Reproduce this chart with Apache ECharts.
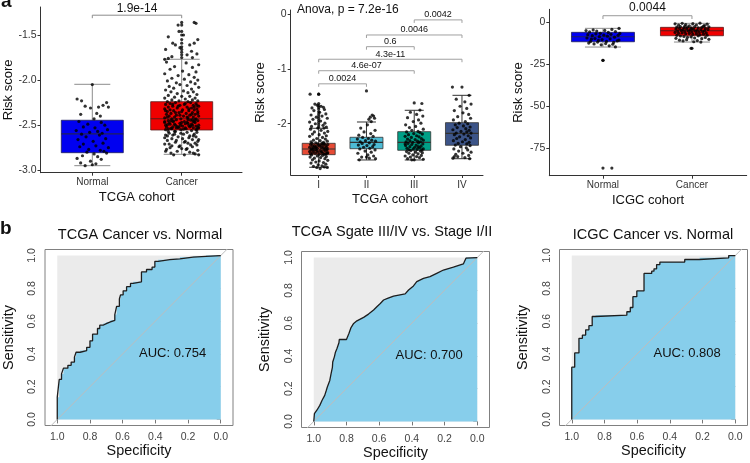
<!DOCTYPE html>
<html><head><meta charset="utf-8">
<script src="https://cdn.jsdelivr.net/npm/echarts@6/dist/echarts.min.js"></script>
<style>html,body{margin:0;padding:0;background:#fff}#c{width:750px;height:463px}</style>
</head><body><div id="c"></div>
<script>
const FONT = 'Liberation Sans, Arial, Helvetica, sans-serif';

// ---------- Panel a (left): TCGA Normal vs Cancer ----------
const a1Cats = ['Normal', 'Cancer'];
// [lower whisker, Q1, median, Q3, upper whisker]
const a1Stats = [[-2.95, -2.806, -2.598, -2.446, -2.047], [-2.824, -2.554, -2.429, -2.24, -1.769]];
const a1Outliers = [[], [-1.36, -1.39, -1.46, -1.50, -1.55, -1.59, -1.63, -1.66, -1.69, -1.72, -1.75]];
const a1NormalPts = [[0.00,-2.05],[-0.17,-2.21],[-0.12,-2.23],[0.16,-2.25],[0.12,-2.28],[-0.08,-2.29],[-0.02,-2.31],[0.07,-2.30],[0.18,-2.30],[-0.13,-2.38],[0.05,-2.37],[0.09,-2.40],[0.02,-2.43],
[-0.15,-2.46],[0.10,-2.47],[-0.05,-2.49],[0.14,-2.50],[-0.10,-2.52],[0.03,-2.53],[0.17,-2.55],[-0.18,-2.56],[0.06,-2.57],[-0.03,-2.58],[0.11,-2.59],[-0.12,-2.60],
[0.08,-2.61],[-0.07,-2.63],[0.15,-2.65],[-0.16,-2.66],[0.01,-2.68],[0.12,-2.70],[-0.10,-2.71],[0.04,-2.73],[-0.14,-2.74],[0.18,-2.75],[-0.04,-2.77],[0.09,-2.78],[0.13,-2.79],
[-0.06,-2.80],[0.16,-2.81],[0.02,-2.82],[-0.11,-2.84],[0.06,-2.85],[-0.17,-2.87],[0.10,-2.88],[-0.02,-2.90],[-0.13,-2.92],[0.04,-2.93],[-0.08,-2.95],[0.00,-2.94]];
const a1CancerPts = [[0.14,-1.36],[-0.04,-1.39],[0.16,-1.37],[-0.03,-1.46],[-0.15,-1.52],[0.02,-1.50],[-0.10,-1.59],[-0.07,-1.61],[0.09,-1.61],[0.14,-1.59],[0.18,-1.55],[0.11,-1.68],[-0.18,-1.66],[-0.11,-1.74],[-0.15,-1.76],[0.06,-1.72],[0.17,-1.71],[-0.02,-1.64],[0.12,-1.75],[-0.19,-1.77],
[-0.17,-1.80],[0.05,-1.81],[0.19,-1.83],[-0.08,-1.85],[0.12,-1.86],[-0.13,-1.88],[0.01,-1.90],[0.16,-1.91],[-0.19,-1.93],[0.08,-1.94],[-0.04,-1.95],[0.14,-1.97],[-0.11,-1.98],[0.03,-1.99],[0.18,-2.00],[-0.16,-2.01],[0.10,-2.02],[-0.06,-2.03],[0.15,-2.04],[-0.02,-2.05],[0.06,-2.06],[-0.14,-2.07],[0.19,-2.08],[-0.09,-2.09],[0.11,-2.10],[-0.18,-2.11],[0.02,-2.12],[0.13,-2.13],[-0.12,-2.13],[0.07,-2.14],[-0.05,-2.15],[0.17,-2.16],[-0.15,-2.17],[0.00,-2.18],[0.09,-2.18],[-0.08,-2.19],[0.15,-2.20],[-0.19,-2.20],[0.04,-2.21],[-0.11,-2.22],[0.12,-2.22],[-0.03,-2.23],[0.18,-2.23],[-0.16,-2.24],[0.07,-2.24],
[0.10,-2.25],[-0.07,-2.25],[0.16,-2.26],[-0.13,-2.26],[0.03,-2.27],[-0.18,-2.27],[0.13,-2.28],[-0.02,-2.28],[0.19,-2.29],[-0.10,-2.29],[0.06,-2.30],[-0.15,-2.30],[0.11,-2.31],[-0.05,-2.31],[0.17,-2.32],[-0.19,-2.32],[0.01,-2.33],[0.14,-2.33],[-0.09,-2.34],[0.08,-2.34],[-0.16,-2.35],[0.18,-2.35],[-0.03,-2.36],[0.12,-2.36],[-0.12,-2.37],[0.05,-2.37],[0.15,-2.38],[-0.17,-2.38],[-0.06,-2.39],[0.09,-2.39],[0.19,-2.40],[-0.14,-2.40],[0.02,-2.40],[-0.08,-2.41],[0.13,-2.41],[-0.19,-2.42],[0.07,-2.42],[-0.01,-2.43],[0.16,-2.43],[-0.11,-2.43],[0.04,-2.26],[-0.04,-2.29],[0.08,-2.32],[-0.13,-2.33],[0.18,-2.37],[-0.07,-2.36],[0.11,-2.38],[-0.16,-2.41],[0.00,-2.35],[0.14,-2.30],[-0.10,-2.27],[0.06,-2.41],[-0.18,-2.34],[0.17,-2.28],[-0.02,-2.39],
[0.12,-2.44],[-0.06,-2.44],[0.18,-2.45],[-0.15,-2.45],[0.03,-2.46],[-0.10,-2.46],[0.15,-2.47],[-0.19,-2.47],[0.07,-2.48],[-0.02,-2.48],[0.11,-2.49],[-0.13,-2.49],[0.19,-2.50],[-0.07,-2.50],[0.01,-2.51],[0.16,-2.51],[-0.17,-2.52],[0.09,-2.52],[-0.04,-2.53],[0.13,-2.53],[-0.11,-2.54],[0.05,-2.54],[0.17,-2.55],[-0.18,-2.55],[-0.01,-2.55],[0.10,-2.445],[-0.09,-2.455],[0.14,-2.465],[-0.14,-2.475],[0.04,-2.485],[-0.16,-2.495],[0.08,-2.505],[-0.05,-2.515],[0.18,-2.525],[-0.12,-2.535],[0.02,-2.545],[0.15,-2.44],[-0.19,-2.46],[0.06,-2.47],[-0.08,-2.49],[0.12,-2.50],[-0.03,-2.52],[0.19,-2.53],[-0.15,-2.54],[0.00,-2.47],[0.10,-2.51],[-0.12,-2.45],[0.16,-2.55],[-0.06,-2.53],[0.07,-2.44],[-0.18,-2.50],[0.13,-2.46],[-0.01,-2.50],[0.04,-2.53],[-0.10,-2.52],
[0.11,-2.56],[-0.08,-2.57],[0.17,-2.58],[-0.14,-2.59],[0.02,-2.60],[-0.18,-2.61],[0.13,-2.62],[-0.04,-2.63],[0.08,-2.64],[-0.11,-2.65],[0.19,-2.66],[-0.16,-2.67],[0.04,-2.68],[-0.07,-2.69],[0.15,-2.70],[-0.19,-2.71],[0.10,-2.72],[-0.02,-2.73],[0.12,-2.74],[-0.13,-2.75],[0.06,-2.76],[-0.17,-2.77],[0.18,-2.78],[-0.05,-2.79],[0.09,-2.80],[-0.12,-2.81],[0.15,-2.82],[-0.09,-2.83],[0.03,-2.83],[0.19,-2.83],[-0.15,-2.57],[0.06,-2.58],[-0.01,-2.59],[0.14,-2.60],[-0.10,-2.61],[0.16,-2.63],[-0.19,-2.64],[0.01,-2.65],[0.12,-2.66],[-0.06,-2.67],[0.07,-2.70],[-0.14,-2.71],[0.17,-2.72],[-0.03,-2.74],[0.05,-2.77],[-0.18,-2.79],[0.13,-2.81],[-0.07,-2.57],[0.09,-2.62],[-0.16,-2.62],[0.03,-2.69],[0.18,-2.68],[-0.11,-2.73],[0.00,-2.76],[-0.08,-2.60]];
const a1YTicks = [-3, -2.5, -2, -1.5];
// [from category, to category, y value]
const a1Brackets = [[1, 2, -1.28]];
const a1BracketLabels = ['1.9e-14'];

// ---------- Panel a (middle): TCGA stages ----------
const a2Cats = ['I', 'II', 'III', 'IV'];
const a2Stats = [[-2.797, -2.566, -2.462, -2.358, -2.083], [-2.663, -2.457, -2.34, -2.248, -1.968], [-2.663, -2.486, -2.34, -2.145, -1.754], [-2.64, -2.394, -2.175, -1.98, -1.48]];
const a2Outliers = [[-1.46, -1.63, -1.67, -1.70, -1.73, -1.78, -1.82, -1.86, -1.90, -1.94, -1.98, -2.02, -2.06], [-1.40], [-1.62], [-1.33]];
const a2Pts1 = [[-0.18,-1.46],[0.00,-1.46],[-0.08,-1.64],[-0.03,-1.66],[0.05,-1.68],[-0.14,-1.71],[0.10,-1.70],[0.12,-1.74],[-0.10,-1.76],[0.02,-1.79],[0.15,-1.82],[-0.16,-1.84],[0.07,-1.86],[-0.05,-1.88],[0.18,-1.90],[-0.12,-1.92],[0.04,-1.95],[-0.19,-1.97],[0.13,-1.99],[-0.07,-2.00],[0.09,-2.03],[-0.15,-2.05],[0.16,-2.06],[-0.02,-2.08],[0.11,-2.08],
[-0.17,-2.10],[0.05,-2.12],[0.19,-2.14],[-0.09,-2.15],[0.12,-2.17],[-0.13,-2.19],[0.01,-2.20],[0.16,-2.22],[-0.19,-2.23],[0.08,-2.25],[-0.04,-2.27],[0.14,-2.28],[-0.11,-2.30],[0.03,-2.31],[0.18,-2.32],[-0.16,-2.33],[0.10,-2.34],[-0.06,-2.35],[0.07,-2.36],[-0.14,-2.36],
[0.12,-2.37],[-0.02,-2.37],[0.19,-2.38],[-0.17,-2.38],[0.05,-2.39],[-0.09,-2.40],[0.15,-2.40],[-0.13,-2.41],[0.02,-2.41],[0.09,-2.42],[-0.05,-2.42],[0.17,-2.43],[-0.19,-2.43],[-0.11,-2.44],[0.06,-2.44],[0.13,-2.45],[-0.03,-2.45],[0.18,-2.46],[-0.15,-2.46],[0.00,-2.39],[-0.07,-2.43],[0.10,-2.37],
[0.11,-2.47],[-0.06,-2.47],[0.17,-2.48],[-0.16,-2.48],[0.03,-2.49],[-0.10,-2.50],[0.14,-2.50],[-0.19,-2.51],[0.07,-2.51],[-0.02,-2.52],[0.19,-2.53],[-0.13,-2.53],[0.09,-2.54],[-0.07,-2.54],[0.15,-2.55],[-0.17,-2.55],[0.01,-2.56],[0.12,-2.56],[-0.04,-2.49],[0.05,-2.52],[-0.12,-2.47],[0.18,-2.54],
[-0.15,-2.57],[0.08,-2.58],[-0.03,-2.59],[0.16,-2.60],[-0.18,-2.61],[0.04,-2.62],[-0.09,-2.63],[0.13,-2.64],[-0.13,-2.66],[0.19,-2.67],[0.01,-2.68],[-0.06,-2.70],[0.10,-2.71],[-0.16,-2.72],[0.15,-2.74],[-0.01,-2.75],[0.07,-2.77],[-0.11,-2.78],[0.12,-2.79],[-0.04,-2.80],[0.18,-2.80],[0.03,-2.82]];
const a2Pts2 = [[0.12,-1.84],[0.15,-1.86],[0.08,-1.88],[0.17,-1.90],[0.05,-1.92],[0.10,-1.96],[0.02,-2.02],[-0.12,-2.08],[0.18,-2.12],[-0.05,-2.15],[0.09,-2.18],[-0.16,-2.21],[0.14,-2.23],[-0.08,-2.25],[0.04,-2.27],[-0.19,-2.28],[0.11,-2.30],[-0.02,-2.31],[0.19,-2.32],[-0.13,-2.33],[0.06,-2.35],[-0.09,-2.36],[0.16,-2.38],[-0.17,-2.39],[0.01,-2.40],[0.13,-2.42],[-0.06,-2.43],[0.07,-2.45],[-0.14,-2.46],[0.18,-2.48],[-0.03,-2.50],[0.10,-2.52],[-0.18,-2.54],[0.03,-2.57],[0.15,-2.59],[-0.10,-2.61],[0.06,-2.63],[0.19,-2.64],[-0.15,-2.66],[0.00,-2.61]];
const a2Pts3 = [[0.16,-1.63],[0.12,-1.75],[-0.08,-1.79],[0.05,-1.83],[0.18,-1.86],[-0.14,-1.89],[0.09,-1.93],[-0.02,-1.96],[0.14,-1.99],[-0.18,-2.02],[0.03,-2.05],[-0.10,-2.07],[0.19,-2.10],[-0.05,-2.12],[0.08,-2.14],
[-0.16,-2.15],[0.12,-2.16],[-0.01,-2.18],[0.17,-2.19],[-0.12,-2.20],[0.05,-2.22],[-0.19,-2.23],[0.10,-2.24],[-0.06,-2.25],[0.15,-2.27],[-0.14,-2.28],[0.02,-2.29],[0.19,-2.30],[-0.09,-2.31],[0.07,-2.32],[-0.17,-2.33],[0.13,-2.33],[-0.03,-2.34],
[0.09,-2.35],[-0.13,-2.36],[0.18,-2.37],[-0.05,-2.38],[0.04,-2.39],[-0.18,-2.40],[0.14,-2.41],[-0.09,-2.42],[0.01,-2.43],[0.11,-2.44],[-0.15,-2.45],[0.19,-2.46],[-0.02,-2.46],[0.06,-2.47],[-0.11,-2.48],[0.16,-2.48],[-0.19,-2.37],[0.08,-2.42],
[-0.07,-2.49],[0.13,-2.50],[-0.16,-2.51],[0.03,-2.52],[0.17,-2.53],[-0.11,-2.54],[0.08,-2.55],[-0.03,-2.57],[0.15,-2.58],[-0.19,-2.59],[0.05,-2.60],[-0.08,-2.61],[0.11,-2.62],[-0.14,-2.64],[0.19,-2.65],[0.00,-2.66],[-0.05,-2.66]];
const a2Pts4 = [[-0.20,-1.33],[0.15,-1.48],[-0.12,-1.55],[0.06,-1.60],[0.19,-1.64],[-0.04,-1.68],[0.10,-1.72],[-0.16,-1.76],[0.02,-1.80],[0.14,-1.83],[-0.09,-1.87],[0.18,-1.90],[-0.18,-1.93],[0.07,-1.96],
[-0.06,-1.99],[0.12,-2.00],[-0.14,-2.02],[0.03,-2.04],[0.17,-2.06],[-0.10,-2.07],[0.08,-2.09],[-0.19,-2.11],[0.15,-2.12],[-0.02,-2.14],[0.10,-2.15],[-0.12,-2.17],[0.19,-2.17],
[0.04,-2.19],[-0.16,-2.20],[0.13,-2.22],[-0.05,-2.24],[0.18,-2.26],[-0.11,-2.27],[0.07,-2.29],[-0.18,-2.31],[0.01,-2.33],[0.15,-2.34],[-0.08,-2.36],[0.10,-2.37],[-0.14,-2.39],
[0.17,-2.40],[-0.03,-2.42],[0.09,-2.44],[-0.17,-2.46],[0.12,-2.48],[-0.07,-2.50],[0.19,-2.52],[0.02,-2.54],[-0.13,-2.56],[0.14,-2.58],[-0.09,-2.60],[0.06,-2.62],[0.16,-2.64],[-0.19,-2.63],[-0.16,-2.60]];
const a2YTicks = [-2, -1, 0];
const a2Brackets = [[3, 4, -0.10], [2, 4, -0.376], [2, 3, -0.59], [1, 4, -0.82], [1, 3, -1.03], [1, 2, -1.27]];
const a2BracketLabels = ['0.0042', '0.0046', '0.6', '4.3e-11', '4.6e-07', '0.0024'];
const a2Anova = 'Anova, p = 7.2e-16';

// ---------- Panel a (right): ICGC ----------
const a3Cats = ['Normal', 'Cancer'];
const a3Stats = [[-14.94, -11.8, -8.84, -6.24, -3.87], [-11.98, -8.25, -5.29, -3.28, -0.91]];
const a3Outliers = [[-22.8, -86.6], [-15.7]];
const a3NormalPts = [[0.10,-86.6],[0.00,-22.8],[-0.19,-5.2],[-0.15,-6.0],[-0.11,-4.8],[-0.07,-5.5],[-0.03,-6.8],[0.02,-5.1],[0.06,-6.3],[0.10,-4.5],[0.14,-5.8],[0.18,-3.9],[0.19,-6.9],[-0.17,-7.6],[-0.12,-8.2],[-0.08,-7.1],[-0.04,-8.8],[0.01,-7.9],[0.05,-8.5],[0.09,-7.4],[0.13,-9.1],[0.17,-8.0],[-0.18,-9.6],[-0.13,-10.3],[-0.09,-9.9],[-0.05,-11.0],[-0.01,-10.5],[0.04,-11.6],[0.08,-10.1],[0.12,-12.2],[0.16,-11.3],[-0.16,-12.6],[-0.10,-13.1],[-0.06,-12.0],[-0.02,-13.6],[0.03,-12.9],[0.07,-14.2],[0.11,-13.3],[0.14,-14.9],[-0.14,-11.7],[0.18,-10.8]];
const a3CancerPts = [[-0.19,-1.2],[-0.15,-2.0],[-0.11,-0.9],[-0.07,-1.6],[-0.03,-2.4],[0.01,-1.1],[0.05,-1.9],[0.09,-0.8],[0.13,-2.6],[0.17,-1.4],[0.19,-3.0],[-0.17,-3.1],[-0.13,-2.8],[-0.09,-3.5],[-0.05,-3.2],[-0.01,-3.8],[0.03,-2.9],[0.07,-3.6],[0.11,-3.3],[0.15,-4.0],[-0.18,-4.3],[-0.14,-3.9],[-0.10,-4.6],[-0.06,-4.2],[-0.02,-4.9],[0.02,-4.4],[0.06,-5.0],[0.10,-4.7],[0.14,-5.3],[0.18,-4.5],[-0.16,-5.5],[-0.12,-5.1],[-0.08,-5.8],[-0.04,-5.4],[0.00,-6.0],[0.04,-5.6],[0.08,-6.2],[0.12,-5.9],[0.16,-6.5],[-0.19,-6.3],[-0.15,-6.8],[-0.11,-6.6],[-0.07,-7.1],[-0.03,-6.9],[0.01,-7.4],[0.05,-7.0],[0.09,-7.7],[0.13,-7.3],[0.17,-7.9],[-0.17,-8.0],[-0.13,-8.4],[-0.09,-8.7],[-0.05,-9.2],[-0.01,-8.9],[0.03,-9.6],[0.07,-8.3],[0.11,-10.0],[0.15,-9.3],[0.19,-10.4],[-0.18,-9.8],[-0.14,-10.9],[-0.10,-11.3],[-0.06,-10.6],[0.02,-11.8],[0.06,-11.1],[0.10,-12.0],[-0.01,-15.7],[0.14,-2.2],[-0.08,-2.5],[0.00,-4.1]];
const a3YTicks = [-75, -50, -25, 0];
const a3Brackets = [[1, 2, 3.6]];
const a3BracketLabels = ['0.0044'];

// ---------- Panel b: ROC curves, points are [specificity, sensitivity] ----------
const rocTcga = [[1,0],[1,0.136],[0.988,0.136],[0.988,0.244],[0.974,0.244],[0.974,0.278],[0.962,0.278],[0.962,0.313],[0.935,0.313],[0.935,0.33],[0.915,0.33],[0.915,0.35],[0.895,0.35],[0.895,0.38],[0.885,0.38],[0.885,0.41],[0.86,0.41],[0.86,0.42],[0.82,0.42],[0.82,0.44],[0.80,0.44],[0.80,0.48],[0.784,0.48],[0.784,0.52],[0.754,0.52],[0.754,0.555],[0.74,0.555],[0.74,0.575],[0.72,0.575],[0.72,0.585],[0.70,0.585],[0.70,0.595],[0.675,0.595],[0.675,0.605],[0.648,0.605],[0.648,0.64],[0.637,0.64],[0.637,0.69],[0.62,0.69],[0.62,0.735],[0.613,0.735],[0.613,0.76],[0.597,0.76],[0.597,0.785],[0.576,0.785],[0.576,0.81],[0.552,0.81],[0.552,0.83],[0.536,0.83],[0.536,0.84],[0.485,0.84],[0.485,0.90],[0.454,0.90],[0.454,0.915],[0.42,0.915],[0.42,0.93],[0.403,0.93],[0.403,0.965],[0.383,0.965],[0.383,0.975],[0.312,0.975],[0.312,0.98],[0.25,0.98],[0.25,0.99],[0.17,0.99],[0.17,0.995],[0.09,0.995],[0.09,1],[0,1]];
const rocStage = [[1,0],[0.996,0.047],[0.98,0.07],[0.963,0.098],[0.949,0.129],[0.933,0.159],[0.923,0.19],[0.917,0.21],[0.902,0.25],[0.894,0.292],[0.886,0.33],[0.884,0.363],[0.874,0.394],[0.868,0.42],[0.858,0.445],[0.846,0.48],[0.844,0.5],[0.80,0.5],[0.795,0.506],[0.785,0.537],[0.772,0.573],[0.756,0.598],[0.736,0.614],[0.695,0.635],[0.665,0.655],[0.634,0.68],[0.614,0.70],[0.593,0.72],[0.573,0.741],[0.549,0.751],[0.512,0.765],[0.441,0.778],[0.42,0.802],[0.39,0.827],[0.37,0.853],[0.329,0.873],[0.289,0.884],[0.248,0.904],[0.207,0.924],[0.146,0.941],[0.085,0.961],[0.069,0.996],[0.069,1],[0,1]];
const rocIcgc = [[1,0],[1,0.319],[0.982,0.319],[0.982,0.406],[0.956,0.406],[0.956,0.495],[0.935,0.495],[0.935,0.515],[0.915,0.515],[0.915,0.547],[0.895,0.547],[0.895,0.572],[0.875,0.572],[0.875,0.628],[0.855,0.628],[0.855,0.636],[0.663,0.636],[0.663,0.657],[0.642,0.657],[0.642,0.683],[0.626,0.683],[0.626,0.749],[0.602,0.749],[0.602,0.784],[0.558,0.784],[0.558,0.891],[0.511,0.891],[0.511,0.905],[0.497,0.905],[0.497,0.919],[0.481,0.919],[0.481,0.945],[0.461,0.945],[0.461,0.96],[0.309,0.96],[0.309,0.976],[0.218,0.976],[0.218,0.986],[0.04,0.986],[0.04,1],[0,1]];
const rocTitles = ['TCGA Cancer vs. Normal', 'TCGA Sgate III/IV vs. Stage I/II', 'ICGC Cancer vs. Normal'];
const rocAuc = ['AUC: 0.754', 'AUC: 0.700', 'AUC: 0.808'];
const rocAucPos = [0.5, 0.4];
const rocTicks = [0, 0.2, 0.4, 0.6, 0.8, 1.0];
const rocDomain = [[1,0],[0,0],[0,1],[1,1]];
const rocDiag = [[1.2,-0.2],[-0.2,1.2]];

// ---------- helpers ----------
function boxSeries(gi, stats, fills, strokes, whisk, boxW, capW) {
  return {
    type: 'custom', xAxisIndex: gi, yAxisIndex: gi, silent: true, z: 2,
    data: stats.map((s, i) => [i + 1].concat(s)),
    renderItem(params, api) {
      const i = params.dataIndex;
      const x = api.value(0);
      const c = k => api.coord([x, api.value(k)]);
      const lo = c(1), q1 = c(2), md = c(3), q3 = c(4), hi = c(5);
      const cx = lo[0];
      return { type: 'group', children: [
        { type: 'line', shape: { x1: cx, y1: hi[1], x2: cx, y2: lo[1] }, style: { stroke: whisk, lineWidth: 1 } },
        { type: 'line', shape: { x1: cx - capW / 2, y1: hi[1], x2: cx + capW / 2, y2: hi[1] }, style: { stroke: whisk, lineWidth: 1 } },
        { type: 'line', shape: { x1: cx - capW / 2, y1: lo[1], x2: cx + capW / 2, y2: lo[1] }, style: { stroke: whisk, lineWidth: 1 } },
        { type: 'rect', shape: { x: cx - boxW / 2, y: q3[1], width: boxW, height: q1[1] - q3[1] }, style: { fill: fills[i], stroke: strokes[i], lineWidth: 0.8 } },
        { type: 'line', shape: { x1: cx - boxW / 2, y1: md[1], x2: cx + boxW / 2, y2: md[1] }, style: { stroke: strokes[i], lineWidth: 1.2 } }
      ] };
    }
  };
}
function pointSeries(gi, groups, outliers) {
  const data = [];
  groups.forEach((g, i) => g.forEach(p => data.push([i + 1 + p[0], p[1]])));
  outliers.forEach((g, i) => g.forEach(v => data.push([i + 1, v])));
  return { type: 'scatter', xAxisIndex: gi, yAxisIndex: gi, data, symbolSize: 3.2, silent: true, z: 3,
    itemStyle: { color: '#000', borderWidth: 0 } };
}
function bracketSeries(gi, brackets, labels, color, tip, gap, fontSize) {
  return {
    type: 'custom', xAxisIndex: gi, yAxisIndex: gi, silent: true, z: 4,
    data: brackets,
    renderItem(params, api) {
      const p1 = api.coord([api.value(0), api.value(2)]);
      const p2 = api.coord([api.value(1), api.value(2)]);
      return { type: 'group', children: [
        { type: 'polyline', shape: { points: [[p1[0], p1[1] + tip], p1, p2, [p2[0], p2[1] + tip]] }, style: { stroke: color, lineWidth: 1, fill: null } },
        { type: 'text', x: (p1[0] + p2[0]) / 2, y: p1[1] - gap, style: { text: labels[params.dataIndex], fontSize, fontFamily: FONT, fill: '#111', textAlign: 'center', textVerticalAlign: 'bottom' } }
      ] };
    }
  };
}
function boxXAxis(gi, cats, min, max, name, pad) {
  const vals = cats.map((c, i) => i + 1);
  return { type: 'value', gridIndex: gi, min, max, splitLine: { show: false },
    axisLine: { show: true, onZero: false, lineStyle: { color: '#333', width: 1 } },
    axisTick: { show: true, customValues: vals, length: 3, lineStyle: { color: '#333' } },
    axisLabel: { customValues: vals, formatter: v => cats[Math.round(v) - 1], fontSize: 10, color: '#333', margin: 5, fontFamily: FONT },
    name, nameLocation: 'middle', nameGap: 18, nameTextStyle: { fontSize: 13, color: '#111', fontFamily: FONT, padding: pad } };
}
function boxYAxis(gi, ticks, min, max, fmt) {
  return { type: 'value', gridIndex: gi, min, max, splitLine: { show: false },
    axisLine: { show: true, onZero: false, lineStyle: { color: '#333', width: 1 } },
    axisTick: { show: true, customValues: ticks, length: 3, lineStyle: { color: '#333' } },
    axisLabel: { customValues: ticks, formatter: fmt, fontSize: 10.5, color: '#333', margin: 4, fontFamily: FONT },
    name: 'Risk score', nameLocation: 'middle', nameGap: 24, nameTextStyle: { fontSize: 13, color: '#111', fontFamily: FONT } };
}
function rocXAxis(gi) {
  return { type: 'value', gridIndex: gi, min: -0.075, max: 1.075, inverse: true, splitLine: { show: false },
    axisLine: { show: false },
    axisTick: { show: true, customValues: rocTicks, length: 4, lineStyle: { color: '#777' } },
    axisLabel: { customValues: rocTicks, formatter: v => v.toFixed(1), fontSize: 10.5, color: '#444', margin: 6, fontFamily: FONT },
    name: 'Specificity', nameLocation: 'middle', nameGap: 19, nameTextStyle: { fontSize: 14.4, color: '#111', fontFamily: FONT } };
}
function rocYAxis(gi) {
  return { type: 'value', gridIndex: gi, min: -0.037, max: 1.037, splitLine: { show: false },
    axisLine: { show: false },
    axisTick: { show: true, customValues: rocTicks, length: 4, lineStyle: { color: '#777' } },
    axisLabel: { customValues: rocTicks, formatter: v => v.toFixed(1), fontSize: 10.5, color: '#444', margin: 7, rotate: 90, fontFamily: FONT },
    name: 'Sensitivity', nameLocation: 'middle', nameGap: 29, nameTextStyle: { fontSize: 14.4, color: '#111', fontFamily: FONT } };
}
function rocSeries(gi, curve, aucText) {
  return [
    { type: 'custom', xAxisIndex: gi, yAxisIndex: gi, silent: true, z: 1, data: [[0, 0]],
      renderItem(params, api) {
        const dom = rocDomain.map(q => api.coord(q));
        const poly = curve.concat([[0, 0]]).map(q => api.coord(q));
        return { type: 'group', children: [
          { type: 'polygon', shape: { points: dom }, style: { fill: '#EBEBEB' } },
          { type: 'polygon', shape: { points: poly }, style: { fill: '#87CEEB' } }
        ] };
      } },
    { type: 'line', xAxisIndex: gi, yAxisIndex: gi, data: rocDiag, symbol: 'none', silent: true, z: 2, clip: true,
      lineStyle: { color: '#BDBDBD', width: 1 } },
    { type: 'line', xAxisIndex: gi, yAxisIndex: gi, data: curve, symbol: 'none', silent: true, z: 3, clip: true,
      lineStyle: { color: '#1E1E1E', width: 1.3 } },
    { type: 'custom', xAxisIndex: gi, yAxisIndex: gi, silent: true, z: 4, data: [rocAucPos],
      renderItem(params, api) {
        const p = api.coord([api.value(0), api.value(1)]);
        return { type: 'text', x: p[0], y: p[1], style: { text: aucText, fontSize: 13, fontFamily: FONT, fill: '#111', textAlign: 'left', textVerticalAlign: 'middle' } };
      } }
  ];
}

const grids = [
  { left: 40.5, top: 7, width: 201.5, height: 165.7 },
  { left: 290.7, top: 10, width: 192.3, height: 165 },
  { left: 549.3, top: 9.3, width: 197.4, height: 166.4 },
  { left: 45, top: 249.5, width: 188, height: 176, show: true, borderColor: '#808080', borderWidth: 1 },
  { left: 301.5, top: 251.5, width: 188, height: 176, show: true, borderColor: '#808080', borderWidth: 1 },
  { left: 559.5, top: 249.5, width: 188, height: 176, show: true, borderColor: '#808080', borderWidth: 1 }
].map(g => Object.assign({ containLabel: false, outerBoundsMode: 'none' }, g));

const titleStyle = (size, weight) => ({ fontSize: size, fontWeight: weight, color: '#111', fontFamily: FONT });
const option = {
  animation: false,
  backgroundColor: '#fff',
  textStyle: { fontFamily: FONT },
  title: [
    { text: 'a', left: 1, top: -8, padding: 0, textStyle: titleStyle(19, 'bold') },
    { text: 'b', left: 0, top: 219, padding: 0, textStyle: titleStyle(19, 'bold') },
    { text: a2Anova, left: 297, top: 4, padding: 0, textStyle: titleStyle(12, 'normal') },
    { text: rocTitles[0], left: 140, top: 227.5, textAlign: 'center', padding: 0, textStyle: titleStyle(14.5, 'normal') },
    { text: rocTitles[1], left: 392, top: 224.5, textAlign: 'center', padding: 0, textStyle: titleStyle(14.5, 'normal') },
    { text: rocTitles[2], left: 653, top: 227.5, textAlign: 'center', padding: 0, textStyle: titleStyle(14.5, 'normal') }
  ],
  grid: grids,
  xAxis: [
    boxXAxis(0, a1Cats, 0.4206, 2.6745, 'TCGA cohort', [0, 9, 0, 0]),
    boxXAxis(1, a2Cats, 0.414, 4.44, 'TCGA cohort', [0, 0, 0, 6]),
    boxXAxis(2, a3Cats, 0.397, 2.615, 'ICGC cohort', [0, 0, 0, 0]),
    rocXAxis(3), rocXAxis(4), rocXAxis(5)
  ],
  yAxis: [
    boxYAxis(0, a1YTicks, -3.028, -1.189, v => v.toFixed(1)),
    boxYAxis(1, a2YTicks, -2.938, 0.081, v => String(v)),
    boxYAxis(2, a3YTicks, -91.1, 7.4, v => String(v)),
    rocYAxis(3), rocYAxis(4), rocYAxis(5)
  ],
  series: [
    boxSeries(0, a1Stats, ['#0000F0', '#F00000'], ['#20205A', '#5A1A1A'], '#8C8C8C', 62, 36),
    pointSeries(0, [a1NormalPts, a1CancerPts], a1Outliers),
    bracketSeries(0, a1Brackets, a1BracketLabels, '#8C8C8C', 3, 0.5, 12),
    boxSeries(1, a2Stats, ['#E64B35', '#4DBBD5', '#00A087', '#3C5488'], ['#333', '#333', '#333', '#333'], '#333', 33, 19),
    pointSeries(1, [a2Pts1, a2Pts2, a2Pts3, a2Pts4], a2Outliers),
    bracketSeries(1, a2Brackets, a2BracketLabels, '#A0A0A0', 3, 0.5, 9),
    boxSeries(2, a3Stats, ['#0000F0', '#F00000'], ['#20205A', '#5A1A1A'], '#8C8C8C', 63, 36),
    pointSeries(2, [a3NormalPts, a3CancerPts], a3Outliers),
    bracketSeries(2, a3Brackets, a3BracketLabels, '#999', 3.3, 2.5, 12)
  ].concat(rocSeries(3, rocTcga, rocAuc[0]), rocSeries(4, rocStage, rocAuc[1]), rocSeries(5, rocIcgc, rocAuc[2]))
};

const chart = echarts.init(document.getElementById('c'), null, { renderer: 'canvas' });
chart.setOption(option);
</script>
</body></html>
